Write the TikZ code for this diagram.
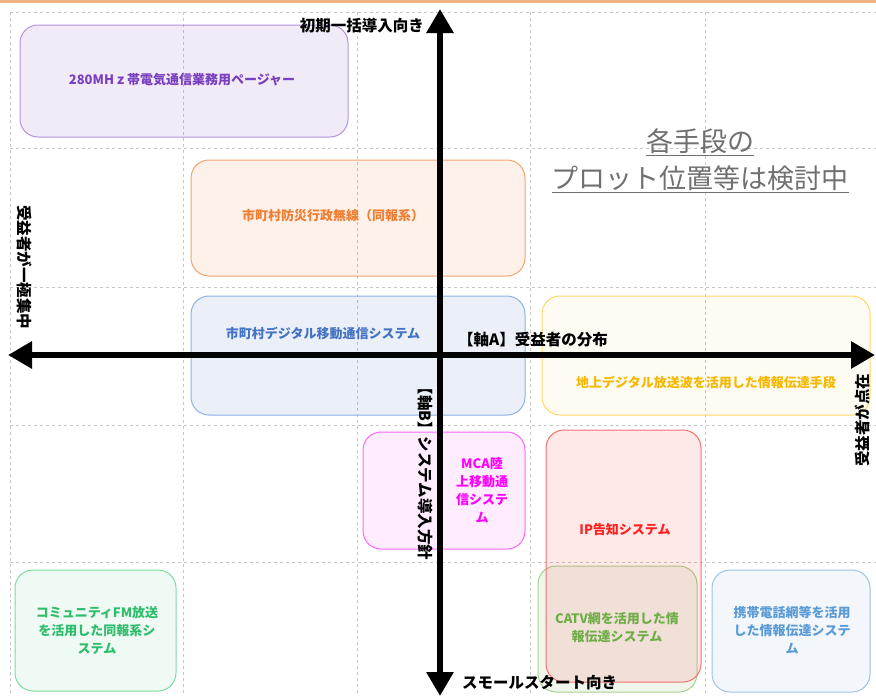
\documentclass[tikz,border=0pt]{standalone}
\usepackage{fontspec}
\setmainfont{Noto Sans CJK JP}
\usetikzlibrary{arrows.meta}

\definecolor{pagerline}{HTML}{B593E0}
\definecolor{pagertext}{HTML}{7A3FBF}
\definecolor{bousailine}{HTML}{F5A46F}
\definecolor{bousaitext}{HTML}{F07D32}
\definecolor{digiline}{HTML}{8FB0E8}
\definecolor{digitext}{HTML}{4472C4}
\definecolor{tvline}{HTML}{FFD966}
\definecolor{tvtext}{HTML}{F5B800}
\definecolor{mcaline}{HTML}{FF66FF}
\definecolor{mcatext}{HTML}{FF00FF}
\definecolor{ipline}{HTML}{F47070}
\definecolor{iptext}{HTML}{FF2020}
\definecolor{catvline}{HTML}{A9D08E}
\definecolor{catvtext}{HTML}{70AD47}
\definecolor{fmline}{HTML}{7FDCA0}
\definecolor{fmtext}{HTML}{2EBD6B}
\definecolor{mobileline}{HTML}{9DC3E6}
\definecolor{mobiletext}{HTML}{5B9BD5}
\definecolor{titlegray}{HTML}{707070}
\definecolor{topline}{HTML}{F4B183}

\begin{document}
\begin{tikzpicture}[x=1pt, y=-1pt,
    zone/.style = {draw, rounded corners=18pt, line width=1pt, fill opacity=0.1},
    tag/.style = {font=\fontsize{13}{18}\selectfont\bfseries, align=center, inner sep=0pt},
    axislabel/.style = {font=\fontsize{15.5}{17}\selectfont\bfseries, inner sep=0pt},
    axis/.style = {line width=6pt, {Triangle[length=24pt,width=26pt]}-{Triangle[length=24pt,width=26pt]}},
    gridline/.style = {gray!45, dashed, line width=0.8pt}]
    \useasboundingbox (0,0) rectangle (876,696);
    \fill[white] (0,0) rectangle (876,696);
    \draw[topline, line width=3pt] (0,1.5) -- (876,1.5);

    \foreach \x in {10,183,357,530,705}
        \draw[gridline] (\x,12) -- (\x,696);
    \foreach \y in {12,148,287,425,562}
        \draw[gridline] (10,\y) -- (876,\y);

    \node[zone, draw=pagerline, fill=pagertext, minimum width=328, minimum height=112] (pager) at (184,81) {};
    \node[zone, draw=bousailine, fill=bousaitext, minimum width=334, minimum height=116] (bousai) at (358,218) {};
    \node[zone, draw=digiline, fill=digitext, minimum width=334, minimum height=119] (digital) at (358,355.5) {};
    \node[zone, draw=tvline, fill=tvtext, fill opacity=0.05, minimum width=328, minimum height=119] (terrestrial) at (706,355.5) {};
    \node[zone, draw=mcaline, fill=mcatext, fill opacity=0.07, minimum width=162, minimum height=117] (mca) at (444,490.5) {};
    \node[zone, draw=catvline, fill=catvtext, minimum width=159, minimum height=126] (catv) at (617.5,629) {};
    \node[zone, draw=ipline, fill=iptext, minimum width=155, minimum height=252] (ip) at (623.5,556) {};
    \node[zone, draw=fmline, fill=fmtext, fill opacity=0.07, minimum width=161, minimum height=121] (fm) at (95.5,630.5) {};
    \node[zone, draw=mobileline, fill=mobiletext, fill opacity=0.07, minimum width=158, minimum height=122] (mobile) at (791,631) {};

    \node[tag, text=pagertext] (pager-text) at (182,80) {280MHｚ帯電気通信業務用ページャー};
    \node[tag, text=bousaitext] (bousai-text) at (333,216) {市町村防災行政無線（同報系）};
    \node[tag, text=digitext] (digital-text) at (323,333) {市町村デジタル移動通信システム};
    \node[tag, text=tvtext] (terrestrial-text) at (706,382) {地上デジタル放送波を活用した情報伝達手段};
    \node[tag, text=mcatext] (mca-text) at (482,490) {MCA陸\\上移動通\\信システ\\ム};
    \node[tag, text=iptext] (ip-text) at (625,530) {IP告知システム};
    \node[tag, text=catvtext] (catv-text) at (617,628) {CATV網を活用した情\\報伝達システム};
    \node[tag, text=fmtext] (fm-text) at (97,630) {コミュニティFM放送\\を活用した同報系シ\\ステム};
    \node[tag, text=mobiletext] (mobile-text) at (792,630) {携帯電話網等を活用\\した情報伝達システ\\ム};

    \coordinate (west) at (8,355);
    \coordinate (east) at (875,355);
    \coordinate (north) at (440,9);
    \coordinate (south) at (440,696);
    \draw[axis] (west) -- (east);
    \draw[axis] (south) -- (north);

    \node[axislabel, anchor=east] (early) at (424,26) {初期一括導入向き};
    \node[axislabel, anchor=west] (smallstart) at (462,683) {スモールスタート向き};
    \node[axislabel, anchor=west] (axis-a) at (458,340) {【軸A】受益者の分布};
    \node[axislabel, rotate=-90] (concentrated) at (25,267) {受益者が一極集中};
    \node[axislabel, rotate=90] (scattered) at (862,420) {受益者が点在};
    \node[axislabel, rotate=-90] (axis-b) at (425,470) {【軸B】システム導入方針};

    \node[font=\fontsize{27}{37}\selectfont, text=titlegray, align=center] (pending) at (700,161) {\underline{各手段の}\\\underline{プロット位置等は検討中}};
\end{tikzpicture}
\end{document}
